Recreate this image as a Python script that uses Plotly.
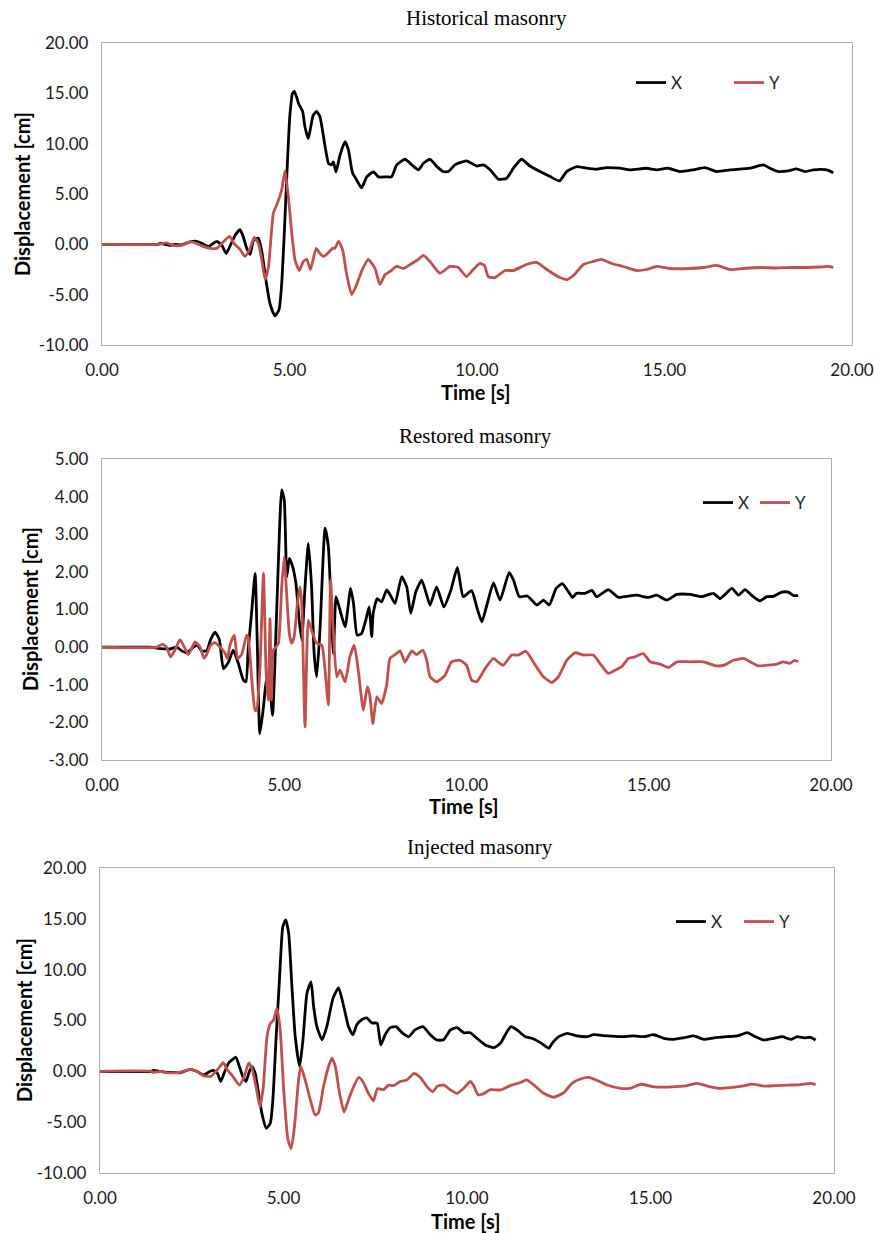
import plotly.graph_objects as go

# ---------------- data (time [s], displacement [cm]) ----------------
hist_x = [(0, 0), (1.5, 0), (1.55, 0.1), (1.68, 0), (1.81, -0.1), (1.95, 0), (2.12, -0.05), (2.35, 0.25),
          (2.52, 0.3), (2.66, 0.1), (2.84, -0.2), (3.06, 0.3), (3.19, -0.05), (3.31, -0.9), (3.41, -0.2),
          (3.55, 0.9), (3.68, 1.45), (3.77, 0.7), (3.86, -0.4), (3.95, -1.0), (4.04, 0.4), (4.17, 0.6),
          (4.26, -0.7), (4.37, -3.5), (4.48, -5.9), (4.61, -7.1), (4.72, -6.5), (4.79, -4.0), (4.86, 1.0),
          (4.93, 7.0), (5.01, 12.8), (5.08, 15.0), (5.13, 15.2), (5.2, 14.5), (5.24, 14.0), (5.35, 13.2),
          (5.41, 11.7), (5.50, 10.5), (5.63, 12.8), (5.72, 13.2), (5.81, 12.7), (5.95, 9.7), (6.04, 8.05),
          (6.12, 7.9), (6.17, 8.2), (6.24, 7.2), (6.35, 8.9), (6.48, 10.2), (6.57, 9.4), (6.68, 7.1),
          (6.79, 6.4), (6.92, 5.6), (7.06, 6.7), (7.24, 7.2), (7.37, 6.7), (7.59, 6.7), (7.72, 6.7),
          (7.86, 7.9), (8.08, 8.45), (8.26, 7.9), (8.44, 7.4), (8.57, 8.05), (8.75, 8.45), (8.93, 7.72),
          (9.10, 7.23), (9.24, 7.23), (9.41, 7.89), (9.72, 8.3), (9.99, 7.78), (10.17, 7.89), (10.35, 7.4),
          (10.57, 6.47), (10.79, 6.57), (10.97, 7.56), (11.19, 8.45), (11.41, 7.78), (11.68, 7.23),
          (11.95, 6.73), (12.2, 6.3), (12.39, 7.23), (12.66, 7.72), (12.92, 7.56), (13.19, 7.46),
          (13.46, 7.62), (13.81, 7.56), (14.08, 7.4), (14.52, 7.56), (14.79, 7.4), (15.1, 7.56),
          (15.41, 7.23), (15.77, 7.4), (16.08, 7.62), (16.39, 7.23), (16.75, 7.4), (17.28, 7.56),
          (17.64, 7.89), (17.81, 7.56), (18.04, 7.23), (18.3, 7.3), (18.52, 7.5), (18.75, 7.23),
          (18.97, 7.4), (19.19, 7.45), (19.37, 7.35), (19.5, 7.1)]

hist_y = [(0, 0), (1.5, 0), (1.72, 0.15), (1.9, -0.1), (2.12, -0.1), (2.35, 0.25), (2.52, 0.1), (2.66, -0.15),
          (2.88, -0.4), (3.06, -0.4), (3.24, 0.25), (3.40, 0.8), (3.52, 0.1), (3.68, -0.5), (3.81, -1.2),
          (3.95, -0.4), (4.06, 0.7), (4.17, 0.1), (4.26, -1.5), (4.35, -3.5), (4.44, -2.2), (4.57, 3.1),
          (4.68, 4.1), (4.79, 5.4), (4.88, 7.3), (4.97, 4.7), (5.06, 1.1), (5.15, -1.6), (5.26, -2.6),
          (5.37, -1.7), (5.46, -1.5), (5.56, -2.5), (5.71, -0.4), (5.81, -0.9), (5.90, -1.2), (5.99, -1.0),
          (6.15, -0.4), (6.21, -0.4), (6.31, 0.3), (6.42, -0.6), (6.52, -2.9), (6.66, -5.0), (6.79, -4.0),
          (6.92, -2.7), (7.10, -1.5), (7.28, -2.4), (7.41, -4.0), (7.55, -3.0), (7.68, -2.7), (7.86, -2.2),
          (8.04, -2.4), (8.26, -1.9), (8.44, -1.5), (8.57, -1.1), (8.75, -1.72), (9.01, -2.87), (9.28, -2.2),
          (9.5, -2.3), (9.72, -3.2), (9.9, -2.5), (10.08, -1.9), (10.2, -2.1), (10.3, -3.2), (10.48, -3.3),
          (10.75, -2.6), (10.97, -2.6), (11.32, -2.0), (11.59, -1.8), (11.86, -2.5), (12.21, -3.3),
          (12.4, -3.5), (12.57, -3.1), (12.84, -2.0), (13.1, -1.7), (13.32, -1.5), (13.59, -1.9),
          (13.9, -2.2), (14.26, -2.6), (14.52, -2.5), (14.79, -2.2), (15.15, -2.4), (15.68, -2.4),
          (16.04, -2.3), (16.39, -2.1), (16.75, -2.5), (17.1, -2.4), (17.55, -2.3), (17.99, -2.35),
          (18.35, -2.3), (18.79, -2.3), (19.15, -2.25), (19.37, -2.2), (19.5, -2.3)]

rest_x = [(0, 0), (1.1, 0), (1.32, 0.0), (1.59, -0.04), (1.87, -0.05), (2.05, 0), (2.19, -0.1), (2.32, -0.15),
          (2.51, 0), (2.62, 0.05), (2.73, -0.1), (2.87, -0.1), (2.98, 0.2), (3.10, 0.4), (3.22, 0.2),
          (3.33, -0.57), (3.47, -0.4), (3.6, -0.08), (3.74, -0.43), (3.88, -0.88), (3.95, -0.92),
          (4.01, -0.08), (4.11, 0.98), (4.2, 1.96), (4.26, 0.1), (4.33, -2.3), (4.43, -1.59), (4.52, -0.79),
          (4.61, -1.14), (4.68, -1.81), (4.75, -0.26), (4.84, 2.31), (4.93, 4.18), (5.0, 3.91), (5.07, 1.87),
          (5.14, 2.36), (5.23, 2.14), (5.32, 1.69), (5.41, 0.72), (5.48, 0.19), (5.57, 1.6), (5.66, 2.76),
          (5.75, 1.6), (5.82, -0.17), (5.89, -0.79), (5.98, 0.45), (6.12, 3.16), (6.21, 2.67), (6.3, 0.72),
          (6.35, -0.17), (6.42, 1.34), (6.53, 0.98), (6.67, 0.54), (6.82, 1.56), (6.9, 1.16), (7.0, 0.32),
          (7.12, 0.36), (7.26, 0.81), (7.33, 1.07), (7.4, 0.28), (7.44, 0.9), (7.55, 1.29), (7.67, 1.2),
          (7.81, 1.52), (7.9, 1.4), (8.04, 1.16), (8.22, 1.87), (8.36, 1.6), (8.47, 0.9), (8.61, 1.47),
          (8.77, 1.78), (8.91, 1.38), (9.0, 1.12), (9.18, 1.6), (9.38, 1.07), (9.57, 1.51), (9.75, 2.12),
          (9.91, 1.34), (10.14, 1.5), (10.28, 1.07), (10.42, 0.67), (10.57, 1.16), (10.74, 1.71),
          (10.92, 1.25), (11.17, 1.98), (11.29, 1.78), (11.45, 1.34), (11.67, 1.36), (11.93, 1.12),
          (12.11, 1.25), (12.27, 1.12), (12.46, 1.56), (12.63, 1.69), (12.8, 1.47), (12.91, 1.32),
          (13.02, 1.43), (13.25, 1.43), (13.44, 1.51), (13.57, 1.34), (13.89, 1.53), (14.17, 1.32),
          (14.4, 1.35), (14.67, 1.38), (14.99, 1.32), (15.22, 1.38), (15.49, 1.25), (15.77, 1.4),
          (16.13, 1.4), (16.45, 1.34), (16.77, 1.43), (16.96, 1.29), (17.28, 1.56), (17.46, 1.38),
          (17.64, 1.53), (17.82, 1.38), (18.05, 1.23), (18.24, 1.34), (18.42, 1.35), (18.65, 1.46),
          (18.83, 1.46), (18.97, 1.37), (19.1, 1.37)]

rest_y = [(0, 0), (1.5, 0), (1.66, 0.08), (1.77, 0), (1.88, -0.26), (2.0, -0.08), (2.14, 0.2), (2.28, -0.04),
          (2.37, -0.2), (2.55, 0.14), (2.69, 0), (2.8, -0.3), (2.87, -0.2), (2.98, 0.05), (3.1, 0.12),
          (3.24, 0), (3.37, -0.15), (3.44, -0.3), (3.51, 0.05), (3.63, 0.32), (3.72, -0.3), (3.83, -0.2),
          (3.92, 0.14), (3.97, 0.32), (4.01, 0.27), (4.11, -0.88), (4.2, -1.68), (4.24, -1.68), (4.33, -0.61),
          (4.43, 1.96), (4.5, -0.61), (4.56, -1.41), (4.61, 0.76), (4.65, -1.41), (4.7, -0.08), (4.77, 0.0),
          (4.84, 0.1), (4.93, 1.6), (5.0, 2.4), (5.07, 1.34), (5.14, 0.36), (5.2, 0.1), (5.27, 0.27),
          (5.36, 1.16), (5.43, 1.6), (5.48, 1.16), (5.57, -2.12), (5.66, 0.72), (5.75, 0.45), (5.89, 0.1),
          (6.03, 0.05), (6.12, -0.61), (6.21, -1.54), (6.27, 1.78), (6.35, 0.36), (6.44, -0.79),
          (6.53, -0.61), (6.67, -0.92), (6.8, -0.26), (6.92, 0.05), (7.03, -0.61), (7.17, -1.68),
          (7.28, -1.05), (7.35, -1.3), (7.43, -2.03), (7.54, -1.32), (7.67, -1.5), (7.81, -1.0), (7.9, -0.3),
          (8.04, -0.2), (8.18, -0.1), (8.31, -0.4), (8.4, -0.25), (8.5, -0.1), (8.63, -0.2), (8.8, -0.08),
          (8.91, -0.35), (9.0, -0.79), (9.18, -0.92), (9.41, -0.75), (9.59, -0.39), (9.82, -0.35),
          (10.0, -0.48), (10.14, -0.88), (10.28, -0.92), (10.51, -0.57), (10.74, -0.3), (10.87, -0.4),
          (11.01, -0.48), (11.24, -0.21), (11.42, -0.21), (11.63, -0.11), (11.83, -0.39), (12.11, -0.79),
          (12.34, -0.94), (12.52, -0.79), (12.75, -0.35), (12.98, -0.15), (13.21, -0.21), (13.48, -0.21),
          (13.66, -0.43), (13.89, -0.7), (14.08, -0.61), (14.26, -0.52), (14.44, -0.3), (14.62, -0.26),
          (14.85, -0.17), (15.04, -0.39), (15.31, -0.45), (15.54, -0.54), (15.77, -0.39), (16.13, -0.39),
          (16.5, -0.39), (16.86, -0.5), (17.09, -0.47), (17.32, -0.35), (17.6, -0.3), (17.78, -0.39),
          (18.01, -0.5), (18.24, -0.48), (18.51, -0.45), (18.69, -0.39), (18.88, -0.43), (19.01, -0.35),
          (19.1, -0.39)]

inj_x = [(0, 0), (1.4, 0), (1.45, 0.1), (1.64, 0), (1.82, -0.1), (2.0, -0.1), (2.18, -0.15), (2.45, 0.2),
         (2.64, 0), (2.82, -0.35), (3.0, 0), (3.09, 0.1), (3.2, -0.2), (3.29, -1.0), (3.38, -0.2), (3.5, 0.8),
         (3.59, 1.1), (3.7, 1.4), (3.8, 0.46), (3.89, -0.5), (3.98, -1.0), (4.07, 0), (4.14, 0.46),
         (4.23, -0.2), (4.32, -2.16), (4.41, -4.13), (4.53, -5.6), (4.64, -5.1), (4.71, -2.8), (4.8, 3.4),
         (4.89, 9.0), (4.98, 14.2), (5.06, 14.9), (5.14, 13.6), (5.23, 8.3), (5.32, 3.4), (5.44, 0.46),
         (5.53, 3.1), (5.64, 7.7), (5.75, 8.8), (5.82, 6.4), (5.91, 4.4), (6.05, 3.1), (6.18, 4.4),
         (6.35, 7.2), (6.5, 8.2), (6.64, 6.4), (6.77, 4.4), (6.89, 3.6), (7.0, 4.6), (7.14, 5.1),
         (7.27, 5.25), (7.41, 4.75), (7.55, 4.75), (7.65, 2.6), (7.77, 3.6), (7.91, 4.3), (8.07, 4.4),
         (8.23, 3.8), (8.41, 3.4), (8.59, 4.1), (8.8, 4.4), (9.0, 3.6), (9.18, 3.08), (9.36, 3.1),
         (9.55, 4.07), (9.73, 4.3), (9.91, 3.8), (10.09, 3.8), (10.27, 3.25), (10.5, 2.6), (10.73, 2.33),
         (10.91, 2.76), (11.09, 3.9), (11.2, 4.4), (11.36, 4.07), (11.59, 3.41), (11.77, 3.25), (12.0, 2.82),
         (12.23, 2.27), (12.32, 2.76), (12.5, 3.41), (12.73, 3.74), (13.0, 3.48), (13.27, 3.41),
         (13.45, 3.6), (13.82, 3.48), (14.18, 3.41), (14.55, 3.48), (14.82, 3.41), (15.09, 3.6),
         (15.36, 3.25), (15.64, 3.15), (15.91, 3.3), (16.18, 3.48), (16.45, 3.15), (16.73, 3.3),
         (17.09, 3.41), (17.36, 3.48), (17.64, 3.8), (17.82, 3.48), (18.09, 3.08), (18.36, 3.25),
         (18.59, 3.41), (18.82, 3.15), (19.0, 3.41), (19.18, 3.3), (19.36, 3.35), (19.5, 3.08)]

inj_y = [(0, 0), (1.4, 0), (1.45, -0.1), (1.64, 0), (1.82, -0.15), (2.0, -0.15), (2.18, -0.1), (2.45, 0.2),
         (2.64, 0), (2.82, -0.45), (3.02, -0.5), (3.2, 0.15), (3.36, 0.85), (3.47, 0.15), (3.59, -0.35),
         (3.8, -1.35), (3.93, -0.5), (4.05, 0.8), (4.14, 0.3), (4.25, -1.5), (4.36, -3.5), (4.45, -1.5),
         (4.55, 3.4), (4.64, 4.7), (4.73, 5.05), (4.82, 6.2), (4.91, 4.1), (5.0, -1.5), (5.12, -6.7),
         (5.21, -7.6), (5.3, -5.4), (5.41, -0.85), (5.47, 0.5), (5.59, -0.85), (5.73, -2.8), (5.86, -4.3),
         (5.95, -4.1), (6.09, -1.5), (6.23, 0.5), (6.32, 1.3), (6.41, 0.5), (6.53, -2.2), (6.65, -4.0),
         (6.77, -2.8), (6.91, -1.5), (7.05, -0.6), (7.16, -1.0), (7.32, -2.2), (7.45, -2.9), (7.56, -1.7),
         (7.73, -1.8), (7.86, -1.35), (8.0, -1.4), (8.18, -1.0), (8.36, -0.85), (8.56, -0.2), (8.73, -0.6),
         (8.91, -1.5), (9.07, -2.0), (9.18, -1.5), (9.36, -1.34), (9.55, -1.83), (9.73, -2.16),
         (9.91, -1.67), (10.09, -1.0), (10.18, -1.4), (10.3, -2.3), (10.45, -2.2), (10.64, -1.8),
         (10.91, -1.83), (11.18, -1.4), (11.45, -1.1), (11.62, -0.85), (11.82, -1.34), (12.09, -2.16),
         (12.36, -2.55), (12.64, -2.1), (12.86, -1.18), (13.09, -0.75), (13.32, -0.6), (13.55, -0.9),
         (13.82, -1.34), (14.18, -1.67), (14.45, -1.67), (14.73, -1.27), (15.05, -1.5), (15.36, -1.55),
         (15.68, -1.5), (16.0, -1.4), (16.27, -1.18), (16.55, -1.45), (16.86, -1.67), (17.18, -1.6),
         (17.5, -1.45), (17.77, -1.25), (18.09, -1.45), (18.41, -1.4), (18.77, -1.35), (19.09, -1.3),
         (19.36, -1.18), (19.5, -1.3)]

panel_titles = ["Historical masonry", "Restored masonry", "Injected masonry"]
series_names = ["X", "Y"]
y_ticks = [[-10, -5, 0, 5, 10, 15, 20],
           [-3, -2, -1, 0, 1, 2, 3, 4, 5],
           [-10, -5, 0, 5, 10, 15, 20]]
x_ticks = [0, 5, 10, 15, 20]

# ---------------- layout geometry (pixels) ----------------
W, H = 874, 1233
BLACK = "#000000"
RED = "#C0504D"
# plot boxes: (left, right, top, bottom)
boxes = [(102, 852, 43, 345), (102, 831, 459, 760), (100, 834, 868, 1173)]
title_pos = [(486, 18), (475, 436), (480, 847)]
ytitle_pos = [(22, 194), (30, 609), (24, 1020)]
xtitle_pos = [(475, 392), (463, 806), (466, 1221)]
legend_pos = [(631, 83, 53), (698, 503, 12), (671, 922, 23)]

TICKFONT = dict(family="Lato, Liberation Sans, sans-serif", size=17, color="#1a1a1a")
AXTITLEFONT = dict(family="Lato, Liberation Sans, sans-serif", size=20, color="#000000")


def fmt(v):
    return f"{v:.2f}"


fig = go.Figure()
data_sets = [(hist_x, hist_y), (rest_x, rest_y), (inj_x, inj_y)]
for i, (sx, sy) in enumerate(data_sets):
    sfx = "" if i == 0 else str(i + 1)
    for name, ser, col in zip(series_names, (sx, sy), (BLACK, RED)):
        fig.add_trace(go.Scatter(
            x=[p[0] for p in ser], y=[p[1] for p in ser], mode="lines", name=name,
            line=dict(color=col, width=2.8, shape="spline", smoothing=0.5),
            xaxis="x" + sfx, yaxis="y" + sfx, legend="legend" + sfx, showlegend=True,
        ))

layout = dict(width=W, height=H, margin=dict(l=0, r=0, t=0, b=0, autoexpand=False),
              paper_bgcolor="white", plot_bgcolor="white", annotations=[])
for i in range(3):
    sfx = "" if i == 0 else str(i + 1)
    l, r, t, b = boxes[i]
    yt = y_ticks[i]
    common = dict(showline=True, mirror=True, linecolor="#b0b0b0", linewidth=1.3,
                  showgrid=False, zeroline=False, ticks="", tickfont=TICKFONT,
                  ticklabelstandoff=9, automargin=False, tickmode="array")
    layout["xaxis" + sfx] = dict(domain=[l / W, r / W], range=[x_ticks[0], x_ticks[-1]],
                                 tickvals=x_ticks, ticktext=[fmt(v) for v in x_ticks],
                                 anchor="y" + sfx, **common)
    layout["yaxis" + sfx] = dict(domain=[1 - b / H, 1 - t / H], range=[yt[0], yt[-1]],
                                 tickvals=yt, ticktext=[fmt(v) for v in yt],
                                 anchor="x" + sfx, **common)
    lx, ly, ew = legend_pos[i]
    layout["legend" + sfx] = dict(x=lx / W, y=1 - ly / H, xanchor="left", yanchor="middle",
                                  orientation="h", bgcolor="rgba(0,0,0,0)",
                                  font=dict(family="Lato, Liberation Sans, sans-serif", size=17,
                                            color="#262626"),
                                  entrywidth=ew, entrywidthmode="pixels", traceorder="normal")
    tx, ty = title_pos[i]
    layout["annotations"].append(dict(text=panel_titles[i], x=tx / W, y=1 - ty / H, xref="paper",
                                      yref="paper", showarrow=False, xanchor="center", yanchor="middle",
                                      font=dict(family="Liberation Serif, Times New Roman, serif",
                                                size=21, color="#000000")))
    ax_, ay_ = ytitle_pos[i]
    layout["annotations"].append(dict(text="<b>Displacement [cm]</b>", x=ax_ / W, y=1 - ay_ / H,
                                      xref="paper", yref="paper", showarrow=False, textangle=-90,
                                      xanchor="center", yanchor="middle", font=AXTITLEFONT))
    bx, by = xtitle_pos[i]
    layout["annotations"].append(dict(text="<b>Time [s]</b>", x=bx / W, y=1 - by / H,
                                      xref="paper", yref="paper", showarrow=False,
                                      xanchor="center", yanchor="middle", font=AXTITLEFONT))

fig.update_layout(**layout)
fig.write_html("out.html")
